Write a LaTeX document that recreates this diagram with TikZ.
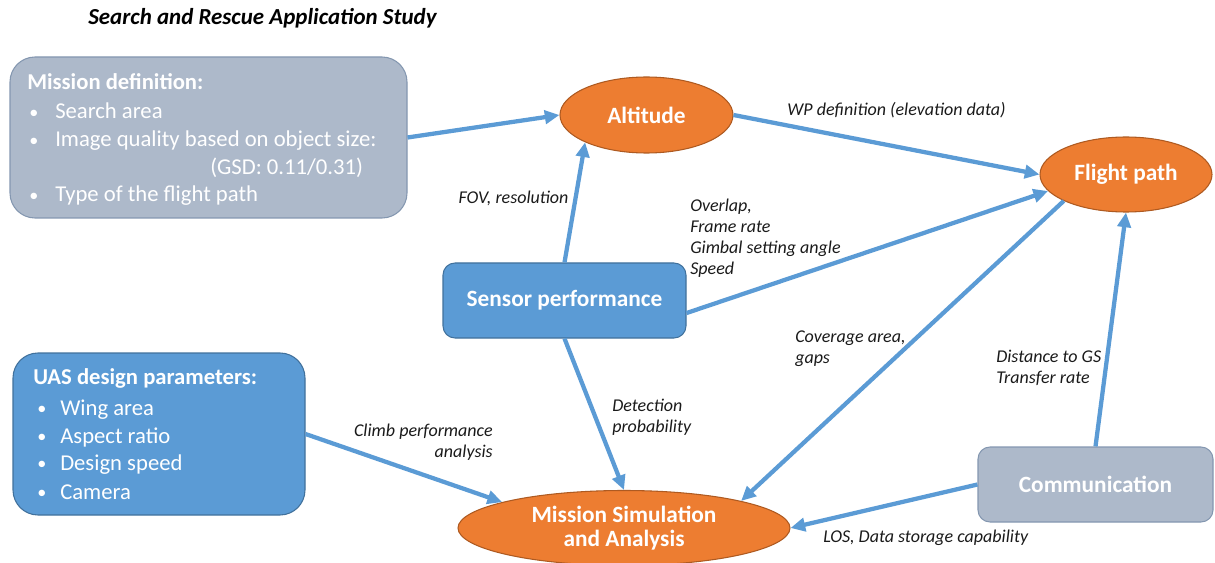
\documentclass[tikz,border=0pt]{standalone}
\usepackage{fontspec}
\setmainfont{Carlito}
\usetikzlibrary{shapes.geometric,arrows.meta,calc}

\definecolor{ovalFill}{HTML}{ED7D31}
\definecolor{ovalLine}{HTML}{AE5A21}
\definecolor{blueFill}{HTML}{5B9BD5}
\definecolor{blueLine}{HTML}{41719C}
\definecolor{greyFill}{HTML}{ADB9CA}
\definecolor{greyLine}{HTML}{8497B0}
\definecolor{flowBlue}{HTML}{5B9BD5}
\definecolor{noteText}{HTML}{1A1A1A}

\newcommand{\itemdot}{\raisebox{0.5pt}{\scalebox{0.8}{•}}}

\begin{document}
\begin{tikzpicture}[x=0.75pt,y=-0.75pt,
  oval/.style={ellipse, draw=ovalLine, fill=ovalFill, line width=0.8pt, inner sep=0pt,
    text=white, font=\fontsize{17.5}{19.5}\selectfont\bfseries, align=center},
  panel/.style={draw=#1Line, fill=#1Fill, line width=0.8pt, inner sep=0pt,
    text=white, font=\fontsize{17.5}{19.5}\selectfont\bfseries},
  flow/.style={draw=flowBlue, line width=3.2pt, -{Triangle[length=11pt,width=10pt]}},
  note/.style={font=\fontsize{13.5}{15.75}\selectfont\itshape, text=noteText, inner sep=0pt},
  boxline/.style={font=\fontsize{17}{21}\selectfont, text=white, inner sep=0pt, anchor=base west},
  boxhead/.style={boxline, font=\fontsize{17}{21}\selectfont\bfseries},
]
\useasboundingbox (0,0) rectangle (1215,563);

% title
\node[anchor=base west, inner sep=0pt, font=\fontsize{17.2}{20}\selectfont\bfseries\itshape]
  (title) at (88,25) {Search and Rescue Application Study};

% boxes
\node[panel=grey, rounded corners=18.75pt, minimum width=297.75pt, minimum height=120.75pt]
  (mission) at (208.5,137.5) {};
\node[panel=blue, rounded corners=18.75pt, minimum width=219pt, minimum height=121.5pt]
  (uas) at (159,434) {};
\node[panel=blue, rounded corners=9pt, minimum width=182.25pt, minimum height=56.25pt]
  (sens) at (564.5,300.5) {Sensor performance};
\node[panel=grey, rounded corners=9pt, minimum width=176.25pt, minimum height=56.25pt]
  (comm) at (1095.5,484.5) {Communication};

% ovals
\node[oval, minimum width=129.75pt, minimum height=57pt] (alt) at (646.5,115) {Altitude};
\node[oval, minimum width=129pt, minimum height=56.25pt] (fp) at (1126,174.5) {Flight path};
\node[oval, minimum width=249pt, minimum height=56.25pt, font=\fontsize{17.5}{19}\selectfont\bfseries]
  (ms) at (624,528) {Mission Simulation\\[-0.5pt]and Analysis};

% mission definition text
\node[boxhead] (mhead) at (27,90) {Mission definition:};
\node[boxline] (m1) at (29,119) {\makebox[19.5pt][l]{\itemdot}Search area};
\node[boxline] (m2) at (29,147) {\makebox[19.5pt][l]{\itemdot}Image quality based on object size:};
\node[boxline] (m3) at (210,175) {(GSD: 0.11/0.31)};
\node[boxline] (m4) at (29,202) {\makebox[19.5pt][l]{\itemdot}Type of the flight path};

% UAS design parameters text
\node[boxhead] (uhead) at (33,384) {UAS design parameters:};
\node[boxline] (u1) at (37,415) {\makebox[17.25pt][l]{\itemdot}Wing area};
\node[boxline] (u2) at (37,443) {\makebox[17.25pt][l]{\itemdot}Aspect ratio};
\node[boxline] (u3) at (37,470) {\makebox[17.25pt][l]{\itemdot}Design speed};
\node[boxline] (u4) at (37,499) {\makebox[17.25pt][l]{\itemdot}Camera};

% connectors
\draw[flow] (mission.east) -- (alt.west);
\draw[flow] (alt.east) -- (fp.west);
\draw[flow] (sens.north) -- (alt.204);
\draw[flow] ([yshift=-9.4pt]sens.east) -- (fp.192);
\draw[flow] (fp.203) -- (ms.13);
\draw[flow] (sens.south) -- (ms.north);
\draw[flow] (uas.east) -- (ms.168);
\draw[flow] (comm.north) -- (fp.south);
\draw[flow] (comm.west) -- (ms.east);

% connector labels
\node[note] (lwp) at (896.5,110) {WP definition (elevation data)};
\node[note] (lfov) at (513.5,198) {FOV, resolution};
\node[note, anchor=west, align=left] (lover) at (690,238.5)
  {Overlap,\\Frame rate\\Gimbal setting angle\\Speed};
\node[note, anchor=west, align=left] (lcov) at (795,348.5) {Coverage area,\\gaps};
\node[note, anchor=west, align=left] (ldist) at (996,367.5) {Distance to GS\\Transfer rate};
\node[note, anchor=west, align=left] (ldet) at (612,417) {Detection\\probability};
\node[note, anchor=east, align=right] (lclimb) at (493,442.5) {Climb performance\\analysis};
\node[note, anchor=west] (llos) at (823,538) {LOS, Data storage capability};
\end{tikzpicture}
\end{document}
